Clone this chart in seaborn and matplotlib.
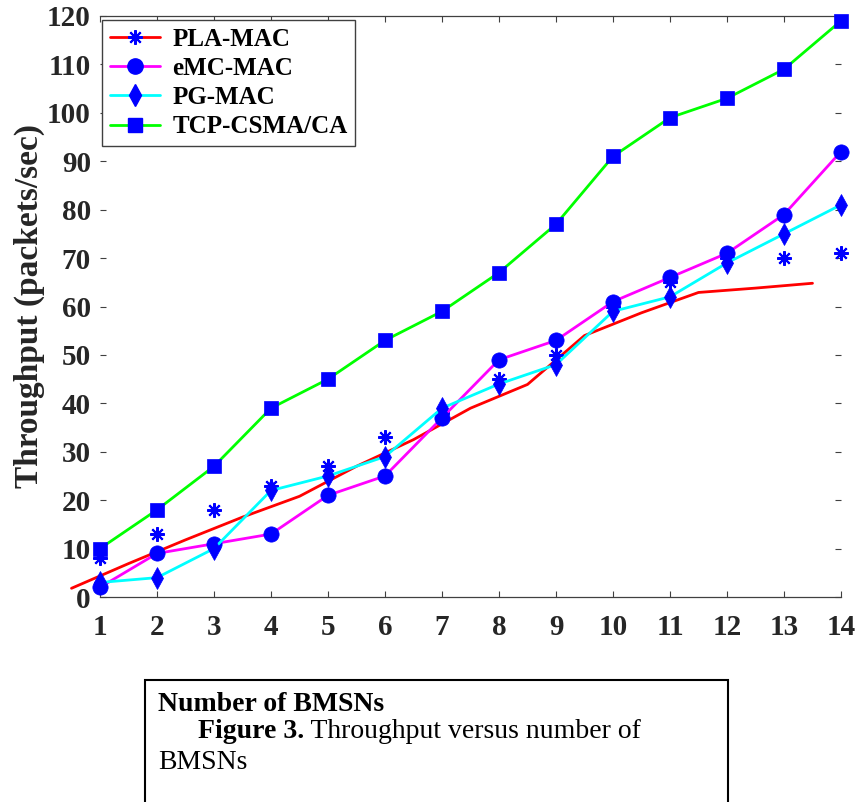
import matplotlib
matplotlib.use("Agg")
import matplotlib.pyplot as plt
from matplotlib.lines import Line2D
from matplotlib.patches import Rectangle
import seaborn as sns
import pandas as pd

# Number of BMSNs
bmsn = [1, 2, 3, 4, 5, 6, 7, 8, 9, 10, 11, 12, 13, 14]

# Throughput (packets/sec) per protocol
pla_points = [8, 13, 18, 23, 27, 33, 38, 45, 50, 60, 65, 70, 70, 71]
emc_mac = [2, 9, 11, 13, 21, 25, 37, 49, 53, 61, 66, 71, 79, 92]
pg_mac = [3, 4, 10, 22, 25, 29, 39, 44, 48, 59, 62, 69, 75, 81]
tcp_csma = [10, 18, 27, 39, 45, 53, 59, 67, 77, 91, 99, 103, 109, 119]

# PLA-MAC trend curve (sampled between node counts)
pla_curve_x = [0.5, 1.5, 2.5, 3.5, 4.5, 5.5, 6.5, 7.5, 8.5, 9.5, 10.5, 11.5, 12.5, 13.5]
pla_curve_y = [1.8, 6.9, 11.8, 16.5, 20.8, 27.0, 32.5, 39.0, 43.9, 54.0, 58.7, 62.9, 63.8, 64.8]

series_names = ["PLA-MAC", "eMC-MAC", "PG-MAC", "TCP-CSMA/CA"]

sns.set_theme(style="white")
plt.rcParams["font.family"] = ["Liberation Serif", "DejaVu Serif"]
plt.rcParams["font.weight"] = "bold"

TXT = "#262626"
MK = "#0000FF"
ASTER = (8, 2, 0)

fig = plt.figure(figsize=(8.58, 8.02), dpi=100)
ax = fig.add_axes([100 / 858, 1 - 597 / 802, 741 / 858, 581 / 802])

df = pd.DataFrame({"x": bmsn, "pla": pla_points, "emc": emc_mac,
                   "pg": pg_mac, "tcp": tcp_csma})
curve = pd.DataFrame({"x": pla_curve_x, "y": pla_curve_y})

sns.lineplot(data=curve, x="x", y="y", color="#FF0000", lw=2.0,
             clip_on=False, ax=ax, zorder=2)
sns.lineplot(data=df, x="x", y="pla", linestyle="none", marker=ASTER,
             markersize=10.5, markeredgecolor=MK, markeredgewidth=1.5,
             color=MK, ax=ax, clip_on=False, zorder=3)
sns.lineplot(data=df, x="x", y="emc", color="#FF00FF", lw=2.0, marker="o",
             markersize=11, markerfacecolor=MK, markeredgecolor=MK,
             markeredgewidth=0.5, clip_on=False, ax=ax, zorder=3)
sns.lineplot(data=df, x="x", y="pg", color="#00FFFF", lw=2.0, marker="d",
             markersize=11, markerfacecolor=MK, markeredgecolor=MK,
             markeredgewidth=0.5, clip_on=False, ax=ax, zorder=3)
sns.lineplot(data=df, x="x", y="tcp", color="#00FF00", lw=2.0, marker="s",
             markersize=10, markerfacecolor=MK, markeredgecolor=MK,
             markeredgewidth=0.5, clip_on=False, ax=ax, zorder=3)

ax.set_xlim(1, 14)
ax.set_ylim(0, 120)
ax.set_xticks(bmsn)
ax.set_yticks(range(0, 121, 10))
ax.set_xlabel("")
ax.set_ylabel("Throughput (packets/sec)", fontsize=24, fontweight="bold",
              color=TXT)
ax.yaxis.set_label_coords(-0.074, 0.5)

for side in ["left", "right"]:
    ax.spines[side].set_visible(False)
for side in ["top", "bottom"]:
    ax.spines[side].set_visible(True)
    ax.spines[side].set_color("#404040")
    ax.spines[side].set_linewidth(0.9)

ax.tick_params(axis="both", which="major", direction="in", length=4.5,
               width=0.8, color="#404040", top=True, right=True,
               bottom=True, left=True, labelsize=21, labelcolor=TXT)
ax.tick_params(axis="x", pad=12)
ax.tick_params(axis="y", pad=6.5)
for lab in ax.get_xticklabels() + ax.get_yticklabels():
    lab.set_fontweight("bold")

handles = [
    Line2D([], [], color="#FF0000", lw=2.0, marker=ASTER, markersize=10.5,
           markeredgecolor=MK, markeredgewidth=1.5),
    Line2D([], [], color="#FF00FF", lw=2.0, marker="o", markersize=11,
           markerfacecolor=MK, markeredgecolor=MK),
    Line2D([], [], color="#00FFFF", lw=2.0, marker="d", markersize=11,
           markerfacecolor=MK, markeredgecolor=MK),
    Line2D([], [], color="#00FF00", lw=2.0, marker="s", markersize=10,
           markerfacecolor=MK, markeredgecolor=MK),
]
leg = ax.legend(handles, series_names,
                loc="upper left", bbox_to_anchor=(0.003, 0.993),
                borderaxespad=0, fancybox=False, framealpha=1,
                edgecolor="#404040", prop={"size": 18, "weight": "bold"},
                handlelength=2.0, labelspacing=0.25, borderpad=0.3,
                handletextpad=0.5)
leg.get_frame().set_linewidth(1.0)
for t in leg.get_texts():
    t.set_color("black")

# Caption box beneath the chart
CAP = 20
fig.add_artist(Rectangle((145 / 858, -0.02), (728 - 145) / 858,
                         1 - 680 / 802 + 0.02, transform=fig.transFigure,
                         fill=False, edgecolor="black", lw=1.5,
                         clip_on=False))
fig.text(158 / 858, 1 - 711 / 802, "Number of BMSNs", fontsize=CAP,
         fontweight="bold", color="black", va="baseline", ha="left")

renderer = fig.canvas.get_renderer()
line_y = 1 - 738 / 802
fig_lbl = fig.text(198 / 858, line_y, "Figure 3.", fontsize=CAP,
                   fontweight="bold", color="black", va="baseline",
                   ha="left")
bb = fig_lbl.get_window_extent(renderer)
fig.text(bb.x1 / fig.bbox.width, line_y, " Throughput versus number of",
         fontsize=CAP, fontweight="normal", color="black", va="baseline",
         ha="left")
fig.text(158 / 858, 1 - 769 / 802, "BMSNs", fontsize=CAP,
         fontweight="normal", color="black", va="baseline", ha="left")

fig.savefig("out.png", dpi=100)
